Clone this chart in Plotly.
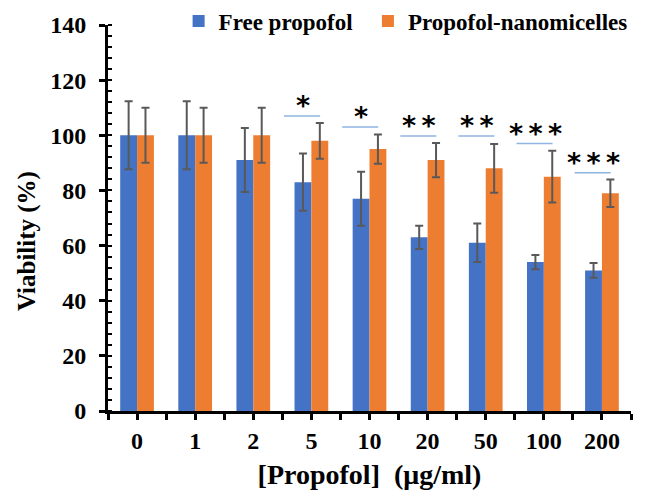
import plotly.graph_objects as go

categories = ["0", "1", "2", "5", "10", "20", "50", "100", "200"]
free_values = [100, 100, 91, 83, 77, 63, 61, 54, 51]
free_errors = [12.3, 12.3, 11.6, 10.4, 9.8, 4.2, 7.0, 2.6, 2.7]
nano_values = [100, 100, 100, 98, 95, 91, 88, 85, 79]
nano_errors = [10, 10, 10, 6.5, 5.3, 6.2, 8.8, 9.4, 5.0]
y_ticks = [0, 20, 40, 60, 80, 100, 120, 140]

sig_categories = ["5", "10", "20", "50", "100", "200"]
sig_labels = ["*", "*", "*\u2009*", "*\u2009*", "*\u2009*\u2009*", "*\u2009*\u2009*"]
sig_heights = [107, 103, 99.7, 99.7, 97, 86.4]

BLUE = "#4472C4"
ORANGE = "#ED7D31"
SERIF = "Liberation Serif"

xpos = list(range(len(categories)))

fig = go.Figure()
fig.add_trace(go.Bar(
    x=xpos, y=free_values, name="<b>Free propofol</b>", marker_color=BLUE,
    marker_line_width=0, legend="legend",
    error_y=dict(type="data", array=free_errors, color="#595959", thickness=2, width=4),
))
fig.add_trace(go.Bar(
    x=xpos, y=nano_values, name="<b>Propofol-nanomicelles</b>", marker_color=ORANGE,
    marker_line_width=0, legend="legend2",
    error_y=dict(type="data", array=nano_errors, color="#595959", thickness=2, width=4),
))

for cat, lab, h in zip(sig_categories, sig_labels, sig_heights):
    i = categories.index(cat)
    fig.add_shape(type="line", xref="x", yref="y", x0=i - 0.47, x1=i + 0.15, y0=h, y1=h,
                  line=dict(color="#8EB4E3", width=1.5))
    fig.add_annotation(x=i - 0.15, y=h, xref="x", yref="y", text="<b>%s</b>" % lab,
                       showarrow=False, yanchor="bottom", yshift=-7,
                       font=dict(family="DejaVu Sans", size=27, color="black"))

# y-axis title (placed as rotated text, slightly below the plot's vertical centre as in the original)
fig.add_annotation(x=-0.155, y=0.44, xref="paper", yref="paper", text="<b>Viability (%)</b>",
                   textangle=-90, showarrow=False, xanchor="center", yanchor="middle",
                   font=dict(family=SERIF, size=25, color="black"))

legend_style = dict(orientation="h", y=1.01, xanchor="left", yanchor="middle",
                    font=dict(family=SERIF, size=23, color="black"),
                    bgcolor="rgba(0,0,0,0)", itemwidth=30)

fig.update_layout(
    width=638, height=488,
    margin=dict(l=100, r=15, t=17, b=85, autoexpand=False),
    plot_bgcolor="white", paper_bgcolor="white",
    barmode="group", bargap=0.42, bargroupgap=0,
    showlegend=True,
    legend=dict(x=0.135, **legend_style),
    legend2=dict(x=0.497, **legend_style),
    font=dict(family=SERIF, color="black"),
)
fig.update_xaxes(
    range=[-0.5, len(categories) - 0.5],
    tickmode="array", tickvals=xpos, ticktext=["<b>%s</b>" % c for c in categories],
    tickfont=dict(family=SERIF, size=24, color="black"),
    showline=True, linecolor="black", linewidth=3,
    ticks="outside", ticklen=6, tickwidth=2.5, tickcolor="black",
    minor=dict(tickmode="linear", tick0=-0.5, dtick=1, ticks="outside", ticklen=6,
               tickwidth=2.5, tickcolor="black"),
    showgrid=False, zeroline=False,
    title=dict(text="<b>[Propofol]  (μg/ml)</b>", font=dict(family=SERIF, size=28, color="black"),
               standoff=12),
)
fig.update_yaxes(
    range=[0, 140],
    tickmode="array", tickvals=y_ticks, ticktext=["<b>%d</b>" % v for v in y_ticks],
    tickfont=dict(family=SERIF, size=24, color="black"),
    ticklabelstandoff=8,
    showline=True, linecolor="black", linewidth=3,
    ticks="outside", ticklen=6, tickwidth=2.5, tickcolor="black",
    minor=dict(tickmode="linear", tick0=0, dtick=4, ticks="inside", ticklen=4,
               tickwidth=2, tickcolor="black"),
    showgrid=False, zeroline=False,
)

fig.write_html("out.html")
